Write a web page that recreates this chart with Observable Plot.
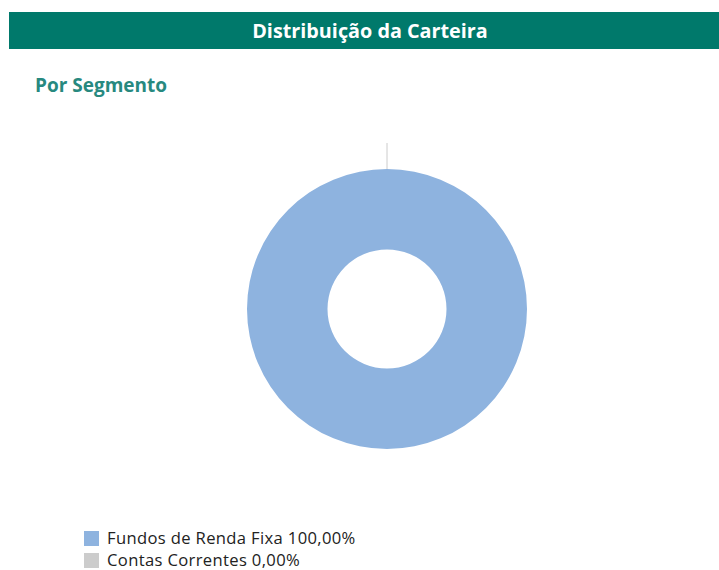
<!DOCTYPE html>
<html><head><meta charset="utf-8">
<script src="https://cdn.jsdelivr.net/npm/d3@7"></script>
<script src="https://cdn.jsdelivr.net/npm/@observablehq/plot@0.6"></script>
<style>
body{margin:0;background:#fff;font-family:"Open Sans",sans-serif;width:719px;height:570px;overflow:hidden;position:relative}
#hdr{position:absolute;left:9px;top:12px;width:722px;height:37px;background:#00796b;color:#fff;font-weight:700;font-size:19.8px;line-height:37px;text-align:center;font-family:"Open Sans",sans-serif}
#sub{position:absolute;left:35px;top:72px;color:#27897f;font-weight:700;font-size:19px;line-height:26px}
#chart{position:absolute;left:0;top:110px}
#legend{position:absolute;left:84px;top:527px;font-size:16.6px;letter-spacing:0.35px;color:#222;line-height:20px}
.li{display:flex;align-items:center;height:22px}
.sw{width:15px;height:15px;margin-right:8px;flex:none}
</style></head>
<body>
<div id="hdr">Distribuição da Carteira</div>
<div id="sub">Por Segmento</div>
<div id="chart"></div>
<div id="legend"></div>
<script>
const categories = ["Fundos de Renda Fixa", "Contas Correntes"];
const values = [100.00, 0.00];
const labels = ["100,00%", "0,00%"];
const colors = ["#8eb3df", "#cccccc"];

const data = categories.map((c, i) => ({category: c, value: values[i], label: labels[i]}));
const pie = d3.pie().sort(null).value(d => d.value)(data);

const W = 719, H = 400;
const cx = 387, cy = 199, R = 140, r0 = 59.5;

function donut(index, scales) {
  const g = d3.create("svg:g");
  const color = scales.color;
  const X = scales.x, Y = scales.y;
  const ox = X(0), oy = Y(0);
  const k = X(1) - X(0);
  const arc = d3.arc().innerRadius(r0 / R * k).outerRadius(k);
  g.selectAll("path").data(pie.filter(p => p.data.value > 0)).join("path")
    .attr("transform", `translate(${ox},${oy})`)
    .attr("d", arc)
    .attr("fill", p => color(p.data.category));
  pie.filter(p => p.data.value === 0).forEach(p => {
    const a = (p.startAngle + p.endAngle) / 2;
    g.append("line")
      .attr("x1", ox + Math.sin(a) * k).attr("y1", oy - Math.cos(a) * k)
      .attr("x2", ox + Math.sin(a) * (k + 26)).attr("y2", oy - Math.cos(a) * (k + 26))
      .attr("stroke", "#cccccc").attr("stroke-width", 1);
  });
  return g.node();
}

const plot = Plot.plot({
  width: W, height: H,
  marginLeft: cx - R, marginRight: W - cx - R,
  marginTop: cy - R, marginBottom: H - cy - R,
  x: {domain: [-1, 1], axis: null},
  y: {domain: [-1, 1], axis: null},
  color: {domain: categories, range: colors},
  marks: [donut]
});
document.getElementById("chart").appendChild(plot);

const lg = document.getElementById("legend");
data.forEach((d, i) => {
  const row = document.createElement("div");
  row.className = "li";
  row.innerHTML = `<span class="sw" style="background:${colors[i]}"></span><span>${d.category} ${d.label}</span>`;
  lg.appendChild(row);
});
</script>
</body></html>
